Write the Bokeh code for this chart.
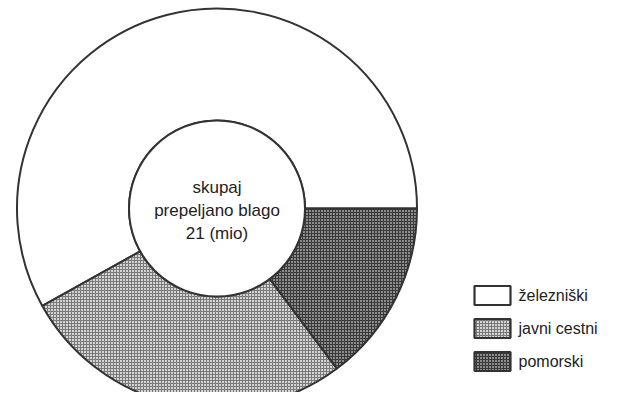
import numpy as np
from bokeh.plotting import figure
from bokeh.models import Range1d
from bokeh.core.properties import value
from bokeh.embed import file_html
from bokeh.resources import INLINE

# data (millions of tonnes, total 21)
categories = ["železniški", "javni cestni", "pomorski"]
values = [12.2, 5.7, 3.1]
center_lines = ["skupaj", "prepeljano blago", "21 (mio)"]

fills = ["#ffffff", "#d4d4d4", "#8c8c8c"]
hatch_colors = ["#ffffff", "#7a7a7a", "#3a3a3a"]
hatches = [" ", "cross", "cross"]
FONT = value("Liberation Sans")

W, H = 602, 392
p = figure(width=W, height=H, output_backend="svg", toolbar_location=None,
           x_range=Range1d(0, W), y_range=Range1d(0, H), min_border=0,
           outline_line_color=None, background_fill_color="white")
p.axis.visible = False
p.grid.visible = False

total = sum(values)
ang = np.cumsum([0] + [v / total * 2 * np.pi for v in values])
cx, cy = 216.5, 184
p.annular_wedge(x=[cx] * 3, y=[cy] * 3, inner_radius=88, outer_radius=200,
                start_angle=list(ang[:-1]), end_angle=list(ang[1:]),
                fill_color=fills, hatch_pattern=hatches, hatch_color=hatch_colors,
                hatch_scale=3, hatch_weight=1,
                line_color="#333333", line_width=2,
                direction="anticlock")
p.scatter(x=[cx], y=[cy], size=176, marker="circle", fill_color="white",
          line_color="#333333", line_width=2)

p.text(x=[cx] * 3, y=[cy + 21, cy - 2, cy - 25], text=center_lines,
       text_font=FONT, text_font_size="17px", text_color="#222222",
       text_align="center", text_baseline="middle")

ly = [97, 64, 31]
p.rect(x=[492] * 3, y=ly, width=36, height=19, fill_color=fills,
       hatch_pattern=hatches, hatch_color=hatch_colors, hatch_scale=3,
       hatch_weight=1, line_color="#333333", line_width=2.2)
p.text(x=[518] * 3, y=ly, text=categories, text_font=FONT,
       text_font_size="16px", text_color="#222222",
       text_align="left", text_baseline="middle")

open("out.html", "w").write(file_html(p, INLINE))
